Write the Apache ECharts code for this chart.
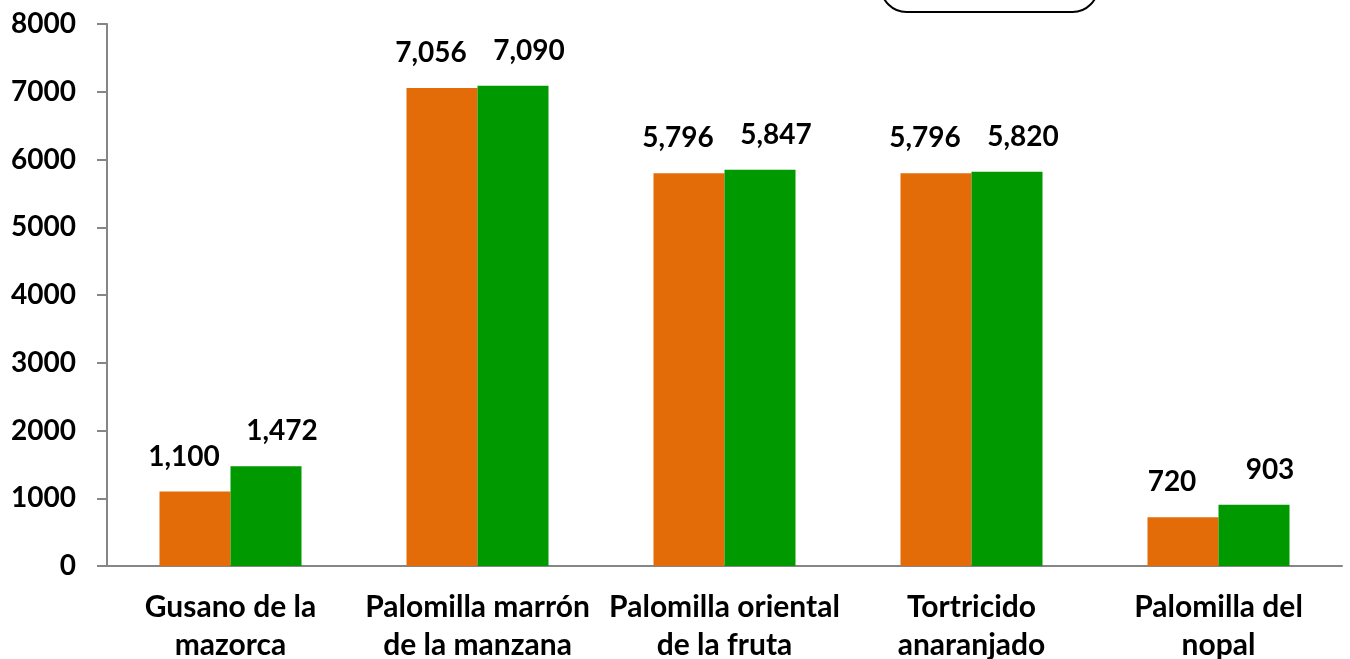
<!DOCTYPE html>
<html>
<head>
<meta charset="utf-8">
<script src="https://cdn.jsdelivr.net/npm/echarts@6/dist/echarts.min.js"></script>
<style>
  html, body { margin: 0; padding: 0; background: #fff; }
  #chart { width: 1350px; height: 659px; }
</style>
</head>
<body>
<div id="chart"></div>
<script>
// 数据
const categories = ['Gusano de la\nmazorca', 'Palomilla marrón\nde la manzana', 'Palomilla oriental\nde la fruta', 'Tortricido\nanaranjado', 'Palomilla del\nnopal'];
const seriesA = [1100, 7056, 5796, 5796, 720];
const seriesB = [1472, 7090, 5847, 5820, 903];

const FONT = 'Lato, "Open Sans", sans-serif';
const fmt = p => p.value.toLocaleString('en-US');
const labelStyle = { show: true, position: 'top', distance: 21, formatter: fmt, color: '#000', fontFamily: FONT, fontWeight: 'bold', fontSize: 28 };

const chart = echarts.init(document.getElementById('chart'));
chart.setOption({
  backgroundColor: '#fff',
  animation: false,
  grid: { left: 107, right: 8, top: 24, bottom: 93, outerBoundsMode: 'none', containLabel: false },
  graphic: [
    { type: 'rect', left: 880, top: -40, shape: { width: 217, height: 51, r: 30 }, style: { fill: '#fff', stroke: '#000', lineWidth: 2 } }
  ],
  xAxis: {
    type: 'category', data: categories,
    axisLine: { lineStyle: { color: '#868686', width: 2 } },
    axisTick: { length: 10, lineStyle: { color: '#868686', width: 2 } },
    axisLabel: { color: '#000', fontFamily: FONT, fontWeight: 'bold', fontSize: 30, lineHeight: 38, margin: 22, interval: 0 }
  },
  yAxis: {
    type: 'value', min: 0, max: 8000, interval: 1000,
    axisLine: { show: true, lineStyle: { color: '#868686', width: 2 } },
    axisTick: { show: true, length: 10, lineStyle: { color: '#868686', width: 2 } },
    splitLine: { show: false },
    axisLabel: { color: '#000', fontFamily: FONT, fontWeight: 'bold', fontSize: 28, margin: 31, formatter: v => String(v) }
  },
  series: [
    { type: 'bar', data: seriesA, barWidth: 71, barGap: '0%', itemStyle: { color: '#E36C09' },
      label: Object.assign({}, labelStyle, { offset: [-11, 0] }) },
    { type: 'bar', data: seriesB, barWidth: 71, barGap: '0%', itemStyle: { color: '#009900' },
      label: Object.assign({}, labelStyle, { offset: [16, 0] }) }
  ]
});
</script>
</body>
</html>
